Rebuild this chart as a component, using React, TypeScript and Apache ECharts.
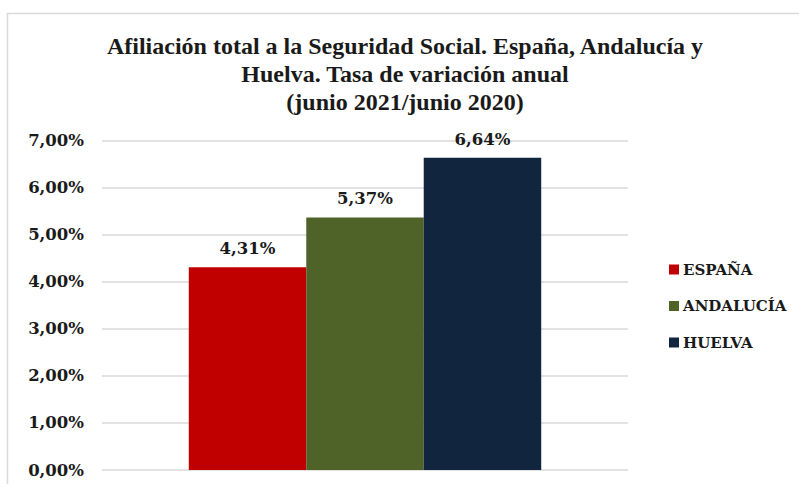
import React, { useEffect, useRef } from "react";
import * as echarts from "echarts";

const categories = [""];
const seriesNames = ["ESPAÑA", "ANDALUCÍA", "HUELVA"];
const seriesValues = [[4.31], [5.37], [6.64]];
const seriesColors = ["#C00000", "#4F6228", "#12253F"];
const titleText = "Afiliación total a la Seguridad Social. España, Andalucía y\nHuelva. Tasa de variación anual\n(junio 2021/junio 2020)";

const fmt = (v: number) => v.toFixed(2).replace(".", ",") + "%";

export default function App() {
  const ref = useRef<HTMLDivElement>(null);
  useEffect(() => {
    const chart = echarts.init(ref.current!, null, { renderer: "svg" });
    chart.setOption({
      animation: false,
      backgroundColor: "#ffffff",
      title: {
        text: titleText,
        left: 400,
        top: 27,
        textAlign: "center",
        textStyle: {
          fontFamily: "Liberation Serif",
          fontWeight: "bold",
          fontSize: 24,
          lineHeight: 28,
          color: "#1a1a1a",
        },
      },
      graphic: [
        {
          type: "rect",
          shape: { x: 7.5, y: 13.5, width: 820, height: 500 },
          style: { fill: "none", stroke: "#d9d9d9", lineWidth: 1.5 },
          silent: true,
        },
      ],
      legend: {
        orient: "vertical",
        left: 664,
        top: 257,
        itemWidth: 10,
        itemHeight: 10,
        itemGap: 21.5,
        icon: "rect",
        textStyle: {
          fontFamily: "DejaVu Serif",
          fontWeight: "bold",
          fontSize: 15,
          color: "#1a1a1a",
          padding: [0, 0, 0, -1],
        },
        data: seriesNames,
      },
      grid: { left: 102, right: 171, top: 140.7, bottom: 14 },
      xAxis: {
        type: "category",
        data: categories,
        axisLine: { show: false },
        axisTick: { show: false },
        axisLabel: { show: false },
      },
      yAxis: {
        type: "value",
        min: 0,
        max: 7,
        interval: 1,
        axisLine: { show: false },
        axisTick: { show: false },
        splitLine: { lineStyle: { color: "#d9d9d9", width: 1.5 } },
        axisLabel: {
          formatter: (v: number) => fmt(v),
          margin: 18,
          fontFamily: "DejaVu Serif",
          fontWeight: "bold",
          fontSize: 16.5,
          color: "#1a1a1a",
        },
      },
      series: seriesNames.map((name, i) => ({
        name,
        type: "bar",
        data: seriesValues[i],
        barGap: "0%",
        barCategoryGap: "33%",
        itemStyle: { color: seriesColors[i] },
        label: {
          show: true,
          position: "top",
          distance: 10,
          formatter: (p: any) => fmt(p.value),
          fontFamily: "DejaVu Serif",
          fontWeight: "bold",
          fontSize: 16.5,
          color: "#1a1a1a",
        },
      })),
    });
    return () => chart.dispose();
  }, []);
  return (
    <div
      ref={ref}
      style={{ position: "fixed", left: 0, top: 0, width: 799, height: 484 }}
    />
  );
}
